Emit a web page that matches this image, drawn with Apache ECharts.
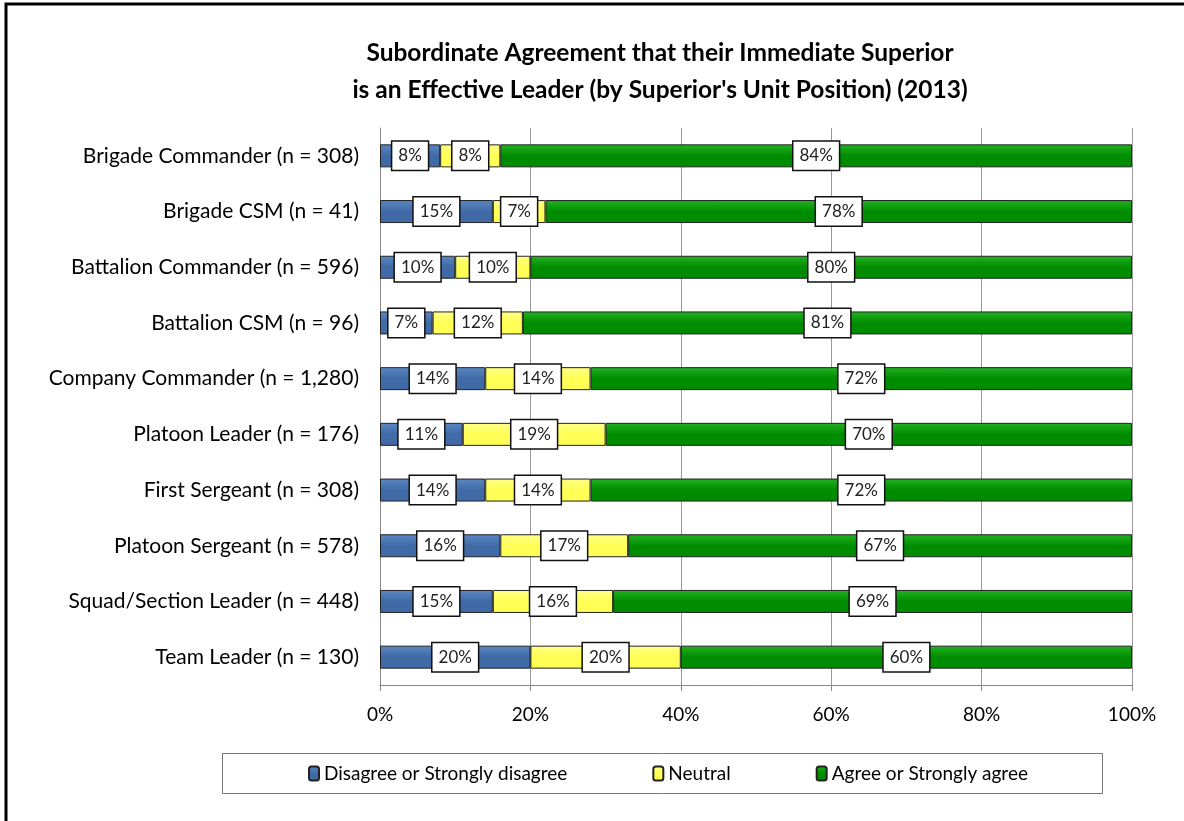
<!DOCTYPE html>
<html><head><meta charset="utf-8">
<script src="https://cdn.jsdelivr.net/npm/echarts@6/dist/echarts.min.js"></script>
<style>html,body{margin:0;padding:0;background:#fff}#c{width:1184px;height:821px}</style>
</head><body><div id="c"></div>
<script>
const categories = ["Brigade Commander (n = 308)","Brigade CSM (n = 41)","Battalion Commander (n = 596)","Battalion CSM (n = 96)","Company Commander (n = 1,280)","Platoon Leader (n = 176)","First Sergeant (n = 308)","Platoon Sergeant (n = 578)","Squad/Section Leader (n = 448)","Team Leader (n = 130)"];
const disagree = [8,15,10,7,14,11,14,16,15,20];
const neutral = [8,7,10,12,14,19,14,17,16,20];
const agree = [84,78,80,81,72,70,72,67,69,60];
const xTicks = [0,20,40,60,80,100];
const seriesNames = ["Disagree or Strongly disagree","Neutral","Agree or Strongly agree"];

const FONT = "Lato, 'Open Sans', sans-serif";
function grad(light, dark){
  return new echarts.graphic.LinearGradient(0,0,0,1,[{offset:0,color:light},{offset:0.5,color:dark},{offset:1,color:dark}]);
}
const label = {show:true, position:'inside', formatter:'{c}%', color:'#222', fontSize:17, fontFamily:FONT,
  backgroundColor:'#fff', borderColor:'#111', borderWidth:1.5, padding:[6,6,5,6]};
const colors = [['#5b88c4','#3f6aa6'],['#ffff88','#ffff55'],['#22b322','#008c00']];
const datas = [disagree, neutral, agree];
const chart = echarts.init(document.getElementById('c'));
chart.setOption({
  animation:false,
  title:{text:'Subordinate Agreement that their Immediate Superior\nis an Effective Leader (by Superior\'s Unit Position) (2013)', left:655, textAlign:'center', top:30,
    textStyle:{fontSize:24.5, fontWeight:'bold', fontFamily:FONT, lineHeight:37, color:'#000'}},
  grid:{left:380, right:52, top:128, bottom:136},
  xAxis:{type:'value', min:0, max:100, interval:20,
    axisLabel:{formatter:v=>xTicks.includes(v)?v+'%':'', fontSize:19, fontFamily:FONT, color:'#000', margin:20},
    splitLine:{show:true, lineStyle:{color:'#999'}},
    axisLine:{show:true, lineStyle:{color:'#888'}}, axisTick:{show:true, length:6, lineStyle:{color:'#888'}}},
  yAxis:{type:'category', data:categories, inverse:true,
    axisLabel:{fontSize:21, fontFamily:FONT, color:'#000', margin:21},
    axisLine:{show:true, lineStyle:{color:'#888'}}, axisTick:{show:false}},
  legend:{data:seriesNames, top:759, left:303, itemWidth:10, itemHeight:14, itemGap:85,
    textStyle:{fontSize:19, fontFamily:FONT, color:'#000'}},
  graphic:[
    {type:'rect', shape:{x:6, y:4, width:1240, height:900}, style:{fill:'none', stroke:'#000', lineWidth:3}, silent:true},
    {type:'rect', shape:{x:222.5, y:753.5, width:880, height:40}, style:{fill:'none', stroke:'#777', lineWidth:1}, silent:true, z:-1}
  ],
  series: seriesNames.map((n,i)=>({name:n, type:'bar', stack:'s', barWidth:23, data:datas[i],
    itemStyle:{color:grad(colors[i][0],colors[i][1]), borderColor:'#222', borderWidth:1},
    label:label}))
});
</script></body></html>
